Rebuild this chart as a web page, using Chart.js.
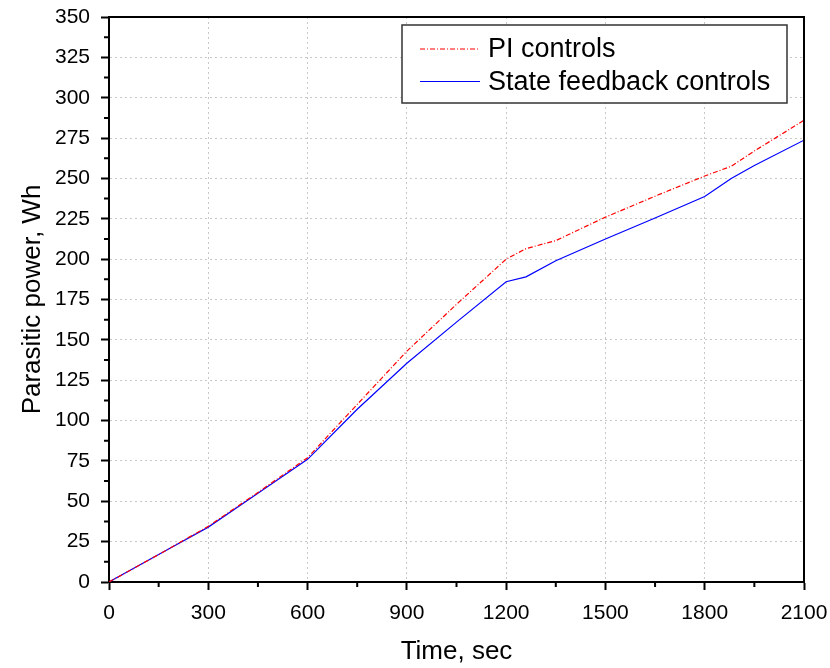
<!DOCTYPE html>
<html>
<head>
<meta charset="utf-8">
<script src="https://cdn.jsdelivr.net/npm/chart.js@4/dist/chart.umd.min.js"></script>
<style>
  html, body { margin: 0; padding: 0; background: #fff; }
  #wrap { width: 830px; height: 668px; }
</style>
</head>
<body>
<div id="wrap"><canvas id="grafico" width="830" height="668"></canvas></div>
<script>
// dados
const tempos = [0, 150, 300, 450, 600, 750, 900, 1050, 1200, 1260, 1350, 1500, 1650, 1800, 1880, 1950, 2100];
const potenciaPI = [0, 17, 34.5, 55.5, 77, 110, 143, 172, 200, 206.5, 211.5, 226, 239, 251.5, 257.5, 267, 286];
const potenciaEstado = [0, 17, 34, 55, 76, 107, 135.5, 161, 186, 189, 199, 212.5, 225.5, 238.8, 250, 258, 273.7];
const nomesSeries = ["PI controls", "State feedback controls"];
const ticksX = { min: 0, max: 2100, passo: 300, menor: 150 };
const ticksY = { min: 0, max: 350, passo: 25, menor: 12.5 };

const fonte = "'Liberation Sans', Arial, sans-serif";

function pontos(valores) {
  return tempos.map((t, i) => ({ x: t, y: valores[i] }));
}

// moldura, ticks menores e legenda
const extras = {
  id: "extras",
  afterDraw(chart) {
    const ctx = chart.ctx;
    const area = chart.chartArea;
    const sx = chart.scales.x;
    const sy = chart.scales.y;
    ctx.save();
    ctx.strokeStyle = "#000";
    ctx.lineWidth = 2;
    ctx.beginPath();
    ctx.moveTo(area.left, area.top);
    ctx.lineTo(area.right, area.top);
    ctx.lineTo(area.right, area.bottom);
    ctx.stroke();

    // ticks menores
    ctx.beginPath();
    for (let v = ticksX.menor; v < ticksX.max; v += ticksX.passo) {
      const px = sx.getPixelForValue(v);
      ctx.moveTo(px, area.bottom);
      ctx.lineTo(px, area.bottom + 5);
    }
    for (let v = ticksY.menor; v < ticksY.max; v += ticksY.passo) {
      const py = sy.getPixelForValue(v);
      ctx.moveTo(area.left, py);
      ctx.lineTo(area.left - 5, py);
    }
    ctx.stroke();

    // legenda
    const lx = 402, ly = 25, lw = 385, lh = 78;
    ctx.fillStyle = "#fff";
    ctx.fillRect(lx, ly, lw, lh);
    ctx.strokeStyle = "#333";
    ctx.lineWidth = 1.5;
    ctx.strokeRect(lx, ly, lw, lh);
    ctx.font = "27px " + fonte;
    ctx.textBaseline = "middle";
    chart.data.datasets.forEach((ds, i) => {
      const yy = ly + 24 + i * 32.5;
      ctx.strokeStyle = ds.borderColor;
      ctx.lineWidth = ds.borderWidth;
      ctx.setLineDash(ds.borderDash || []);
      ctx.beginPath();
      ctx.moveTo(lx + 18, yy);
      ctx.lineTo(lx + 78, yy);
      ctx.stroke();
      ctx.setLineDash([]);
      ctx.fillStyle = "#000";
      ctx.fillText(ds.label, lx + 86, yy + 1);
    });
    ctx.restore();
  }
};

const ctx = document.getElementById("grafico");
const grafico = new Chart(ctx, {
  type: "line",
  data: {
    datasets: [
      {
        label: nomesSeries[0],
        data: pontos(potenciaPI),
        borderColor: "#ff0000",
        borderWidth: 1.2,
        borderDash: [5, 2, 1, 2],
        pointRadius: 0,
        tension: 0,
        fill: false,
      },
      {
        label: nomesSeries[1],
        data: pontos(potenciaEstado),
        borderColor: "#0000ff",
        borderWidth: 1.2,
        pointRadius: 0,
        tension: 0,
        fill: false,
      },
    ],
  },
  options: {
    responsive: false,
    animation: false,
    layout: { padding: { top: 17, right: 26, left: 0, bottom: 0 } },
    plugins: { legend: { display: false }, tooltip: { enabled: false } },
    scales: {
      x: {
        type: "linear",
        min: ticksX.min,
        max: ticksX.max,
        ticks: {
          stepSize: ticksX.passo,
          color: "#000",
          padding: 11,
          maxRotation: 0,
          font: { family: fonte, size: 21 },
          callback: (v) => String(v),
        },
        grid: {
          color: "#c8c8c8",
          lineWidth: 1,
          tickLength: 8,
          tickColor: "#000",
          tickWidth: 2,
        },
        border: { display: true, color: "#000", width: 2, dash: [2, 3] },
        title: {
          display: true,
          text: "Time, sec",
          color: "#000",
          font: { family: fonte, size: 26 },
          padding: { top: 0, bottom: 1 },
        },
        afterFit(scale) {
          scale.height = 86;
          scale.paddingLeft = 0;
          scale.paddingRight = 0;
        },
      },
      y: {
        min: ticksY.min,
        max: ticksY.max,
        ticks: {
          stepSize: ticksY.passo,
          color: "#000",
          padding: 11,
          font: { family: fonte, size: 21 },
        },
        grid: {
          color: "#c8c8c8",
          lineWidth: 1,
          tickLength: 8,
          tickColor: "#000",
          tickWidth: 2,
        },
        border: { display: true, color: "#000", width: 2, dash: [2, 3] },
        title: {
          display: true,
          text: "Parasitic power, Wh",
          color: "#000",
          font: { family: fonte, size: 26 },
          padding: { top: 17, bottom: 0 },
        },
        afterFit(scale) {
          scale.width = 109;
          scale.paddingTop = 0;
          scale.paddingBottom = 0;
        },
      },
    },
  },
  plugins: [extras],
});
</script>
</body>
</html>
